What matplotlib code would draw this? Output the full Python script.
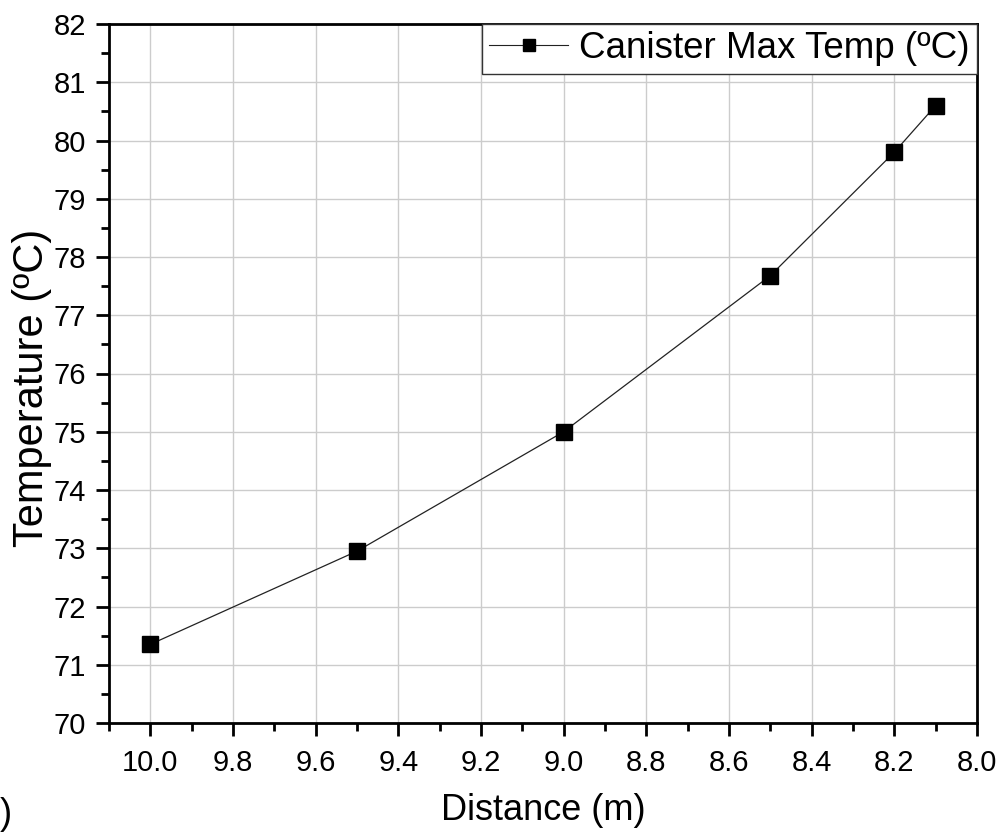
import matplotlib
matplotlib.use('Agg')
import matplotlib.pyplot as plt
from matplotlib.ticker import MultipleLocator, FormatStrFormatter

# Data
distance = [10.0, 9.5, 9.0, 8.5, 8.2, 8.1]
max_temp = [71.35, 72.95, 75.0, 77.68, 79.8, 80.6]
series_label = 'Canister Max Temp (ºC)'

plt.rcParams['font.family'] = ['Liberation Sans', 'DejaVu Sans']

fig = plt.figure(figsize=(9.98, 8.32), dpi=100)
ax = fig.add_axes([109 / 998, 1 - 723 / 832, (977 - 109) / 998, (723 - 24) / 832])

ax.plot(distance, max_temp, color='#222222', linewidth=0.9, marker='s',
        markersize=11, markerfacecolor='black', markeredgecolor='black',
        label=series_label, zorder=3)

ax.set_xlim(10.1, 8.0)
ax.set_ylim(70, 82)
ax.xaxis.set_major_locator(MultipleLocator(0.2))
ax.xaxis.set_minor_locator(MultipleLocator(0.1))
ax.yaxis.set_major_locator(MultipleLocator(1))
ax.yaxis.set_minor_locator(MultipleLocator(0.5))
ax.xaxis.set_major_formatter(FormatStrFormatter('%.1f'))

ax.grid(True, which='major', color='#cccccc', linewidth=1.0)
ax.set_axisbelow(True)

for side in ['left', 'bottom', 'top', 'right']:
    ax.spines[side].set_linewidth(2.0)
    ax.spines[side].set_color('black')

ax.tick_params(which='major', direction='out', length=9.5, width=2.0,
               labelsize=21, pad=7, top=False, right=False)
ax.tick_params(axis='x', which='major', pad=9)
ax.tick_params(which='minor', direction='out', length=5.5, width=2.0,
               top=False, right=False)

ax.set_xlabel('Distance (m)', fontsize=26, labelpad=12)
ax.set_ylabel('Temperature (ºC)', fontsize=30)
ax.yaxis.set_label_coords(-0.066, 0.479)

leg = ax.legend(loc='upper right', fontsize=26.5, frameon=True, fancybox=False,
                borderaxespad=0, borderpad=0.2, handlelength=2.15,
                handletextpad=0.3, markerscale=0.75, framealpha=1)
leg.get_frame().set_edgecolor('#333333')
leg.get_frame().set_linewidth(1.0)
for line in leg.get_lines():
    line.set_linewidth(0.8)

# clipped panel label fragment at the bottom-left edge
fig.text(0.0, 1 - 815 / 832, ')', fontsize=26, ha='left', va='center')

fig.savefig('out.png', dpi=100)
